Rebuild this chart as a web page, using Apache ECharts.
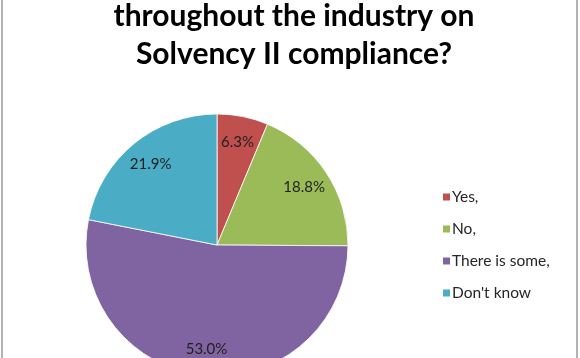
<!DOCTYPE html>
<html>
<head>
<meta charset="utf-8">
<script src="https://cdn.jsdelivr.net/npm/echarts@6/dist/echarts.min.js"></script>
<style>
html,body{margin:0;padding:0;background:#fff;}
#chart{width:580px;height:358px;}
</style>
</head>
<body>
<div id="chart"></div>
<script>
const titleLines = ['throughout the industry on', 'Solvency II compliance?'];
const categories = ['Yes,', 'No,', 'There is some,', "Don't know"];
const values = [6.3, 18.8, 53.0, 21.9];
const colors = ['#C0504D', '#9BBB59', '#8064A2', '#4BACC6'];

const chart = echarts.init(document.getElementById('chart'));
const data = categories.map((c, i) => ({ name: c, value: values[i], itemStyle: { color: colors[i] } }));

chart.setOption({
  backgroundColor: '#ffffff',
  animation: false,
  title: {
    text: titleLines.join('\n'),
    left: 289,
    textAlign: 'center',
    top: -8,
    textStyle: {
      fontFamily: 'Lato',
      fontWeight: 'bold',
      fontSize: 30,
      lineHeight: 38,
      color: '#000000'
    }
  },
  legend: {
    orient: 'vertical',
    left: 441,
    top: 189,
    padding: 0,
    icon: 'rect',
    itemWidth: 9,
    itemHeight: 9,
    itemGap: 16,
    data: categories,
    textStyle: { fontFamily: 'Lato', fontSize: 15.5, lineHeight: 16, color: '#262626', padding: [0, 0, 0, -4] }
  },
  graphic: [
    { type: 'line', shape: { x1: 2, y1: 0, x2: 2, y2: 358 }, style: { stroke: '#b3b3b3', lineWidth: 2 } },
    { type: 'line', shape: { x1: 577, y1: 0, x2: 577, y2: 358 }, style: { stroke: '#b3b3b3', lineWidth: 2 } }
  ],
  series: [
    {
      type: 'pie',
      center: [217, 245],
      radius: [0, 131],
      startAngle: 90,
      clockwise: true,
      data: data,
      label: { show: false },
      labelLine: { show: false },
      itemStyle: { borderColor: '#ffffff', borderWidth: 0.8 },
      emphasis: { disabled: true }
    },
    {
      type: 'pie',
      center: [217, 245],
      radius: [72, 131],
      startAngle: 90,
      clockwise: true,
      silent: true,
      data: data.map(d => ({ name: d.name, value: d.value, itemStyle: { color: 'rgba(0,0,0,0)' } })),
      label: {
        show: true,
        position: 'inside',
        formatter: p => p.value.toFixed(1) + '%',
        fontFamily: 'Lato',
        fontSize: 15,
        color: '#1f1f1f'
      },
      labelLine: { show: false },
      emphasis: { disabled: true }
    }
  ]
});
</script>
</body>
</html>
